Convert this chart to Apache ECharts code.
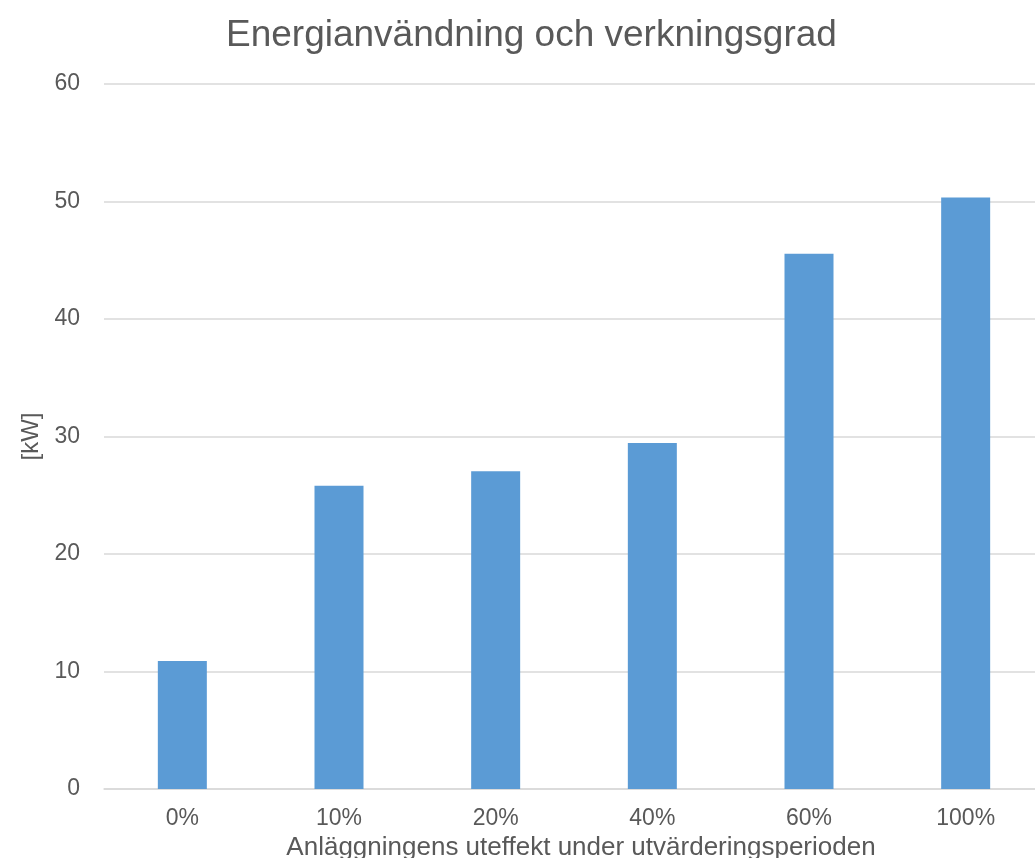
<!DOCTYPE html>
<html>
<head>
<meta charset="utf-8">
<script src="https://cdn.jsdelivr.net/npm/echarts@6/dist/echarts.min.js"></script>
<style>
  html, body { margin: 0; padding: 0; background: #fff; }
  #chart { width: 1035px; height: 858px; }
</style>
</head>
<body>
<div id="chart"></div>
<script>
var categories = ['0%', '10%', '20%', '40%', '60%', '100%'];
var values = [10.9, 25.8, 27.05, 29.45, 45.55, 50.35];
var yTicks = { min: 0, max: 60, interval: 10 };

var font = '"Liberation Sans", Arial, sans-serif';
var textColor = '#595959';

var option = {
    backgroundColor: '#ffffff',
    animation: false,
    title: {
        text: 'Energianvändning och verkningsgrad',
        left: 221,
        top: 12,
        textStyle: {
            fontFamily: font,
            fontSize: 37,
            fontWeight: 'normal',
            color: textColor
        }
    },
    grid: {
        left: 104,
        top: 84,
        width: 940,
        height: 705,
        outerBoundsMode: 'none',
        containLabel: false
    },
    xAxis: {
        type: 'category',
        data: categories,
        name: 'Anläggningens uteffekt under utvärderingsperioden',
        nameLocation: 'middle',
        nameGap: 42,
        nameTextStyle: {
            fontFamily: font,
            fontSize: 26,
            color: textColor,
            padding: [0, 0, 0, 14]
        },
        axisLine: { lineStyle: { color: '#d9d9d9', width: 1.5 } },
        axisTick: { show: false },
        axisLabel: {
            fontFamily: font,
            fontSize: 23,
            color: textColor,
            margin: 18
        }
    },
    yAxis: {
        type: 'value',
        min: yTicks.min,
        max: yTicks.max,
        interval: yTicks.interval,
        name: '[kW]',
        nameLocation: 'middle',
        nameGap: 60,
        nameTextStyle: {
            fontFamily: font,
            fontSize: 24,
            color: textColor
        },
        axisLine: { show: false },
        axisTick: { show: false },
        splitLine: { lineStyle: { color: '#d9d9d9', width: 1.5 } },
        axisLabel: {
            fontFamily: font,
            fontSize: 23,
            color: textColor,
            margin: 24
        }
    },
    series: [{
        type: 'bar',
        data: values,
        barWidth: 49,
        itemStyle: { color: '#5b9bd5' }
    }]
};

var chart = echarts.init(document.getElementById('chart'));
chart.setOption(option);
</script>
</body>
</html>
